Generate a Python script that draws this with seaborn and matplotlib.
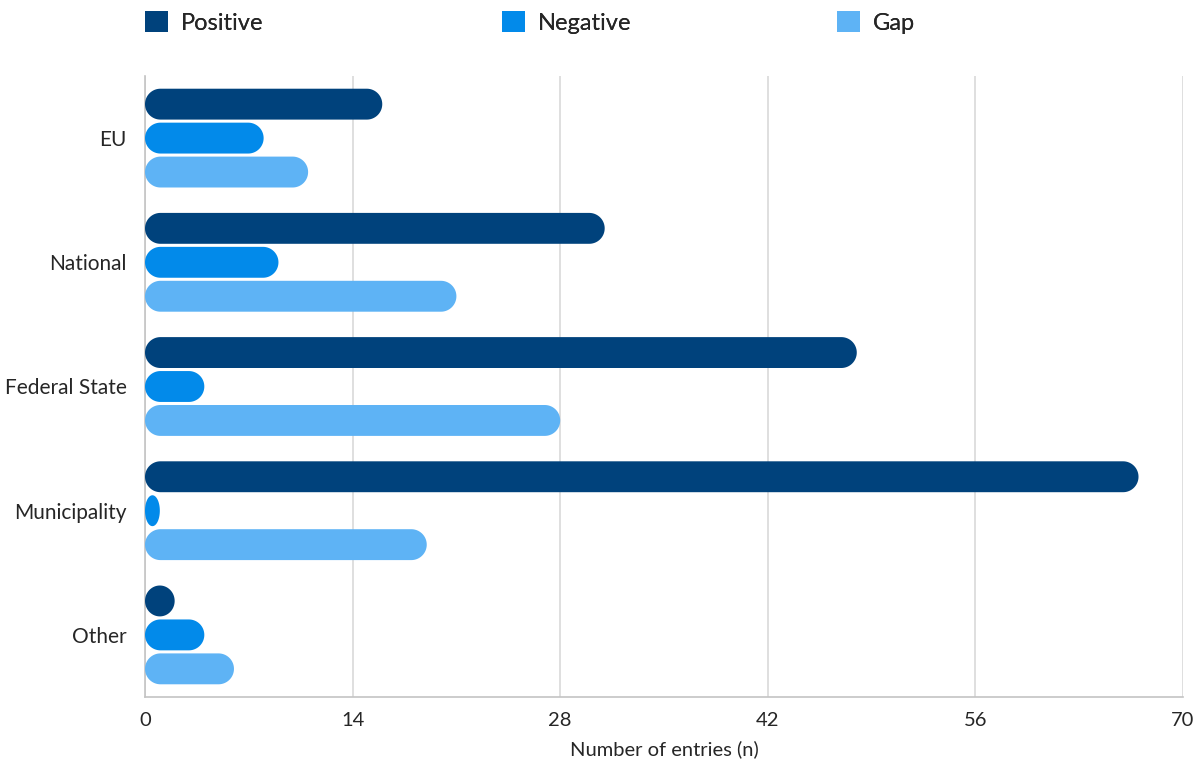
import matplotlib
matplotlib.use("Agg")
import matplotlib.pyplot as plt
from matplotlib.patches import Polygon, Patch
import numpy as np
import pandas as pd
import seaborn as sns

# ----- data -----
levels = ["EU", "National", "Federal State", "Municipality", "Other"]
positive = [16, 31, 48, 67, 2]
negative = [8, 9, 4, 1, 4]
gap = [11, 21, 28, 19, 6]

series_names = ["Positive", "Negative", "Gap"]
colors = ["#00427C", "#028AEA", "#5EB3F5"]
x_ticks = [0, 14, 28, 42, 56, 70]

df = pd.DataFrame({
    "level": levels * 3,
    "n": positive + negative + gap,
    "type": [s for s in series_names for _ in levels],
})

sns.set_style("white")
plt.rcParams["font.family"] = ["Lato", "DejaVu Sans"]

fig = plt.figure(figsize=(12, 7.63), dpi=100)
ax = fig.add_axes([145 / 1200, 1 - 697 / 763, 1038 / 1200, 621 / 763])

sns.barplot(data=df, y="level", x="n", hue="type", orient="h",
            order=levels, hue_order=series_names, palette=colors,
            saturation=1, width=0.82, gap=0.09, legend=False, ax=ax, zorder=3)

ax.set_xlim(0, 70)
ax.set_ylim(4.5, -0.5)
ax.set_xticks(x_ticks)
ax.set_xticklabels([str(t) for t in x_ticks], fontsize=14.5)
ax.tick_params(axis="x", length=0, pad=11)
ax.tick_params(axis="y", length=0, pad=13, labelsize=15)
ax.set_ylabel("")
ax.set_xlabel("Number of entries (n)", fontsize=14.5, labelpad=8)
ax.grid(axis="x", color="#d9d9d9", linewidth=1.2, zorder=0)
ax.set_axisbelow(True)
for side in ["top", "right"]:
    ax.spines[side].set_visible(False)
for side in ["left", "bottom"]:
    ax.spines[side].set_color("#c4c4c4")
    ax.spines[side].set_linewidth(1.2)

# turn the plain bars into pill shapes (half-ellipse caps, round in pixels)
fig.canvas.draw()
sx = abs(ax.transData.transform((1, 0))[0] - ax.transData.transform((0, 0))[0])
sy = abs(ax.transData.transform((0, 1))[1] - ax.transData.transform((0, 0))[1])
theta = np.linspace(-np.pi / 2, np.pi / 2, 40)
for p in list(ax.patches):
    x, y, w, h = p.get_x(), p.get_y(), p.get_width(), p.get_height()
    if w <= 0:
        continue
    hh = abs(h) / 2
    yc = y + h / 2
    rx = min(w / 2, hh * sy / sx)
    right = np.column_stack([x + w - rx + rx * np.cos(theta), yc + hh * np.sin(theta)])
    left = np.column_stack([x + rx - rx * np.cos(theta[::-1]), yc + hh * np.sin(theta[::-1])])
    pill = Polygon(np.vstack([right, left]), closed=True,
                   facecolor=p.get_facecolor(), edgecolor="none", zorder=3)
    p.remove()
    ax.add_patch(pill)

# legend: three entries spread across the top
legend_x = [136, 493, 828]
for name, col, lx in zip(series_names, colors, legend_x):
    leg = fig.legend(handles=[Patch(facecolor=col, edgecolor="none", label=name)],
                     loc="upper left", bbox_to_anchor=(lx / 1200, 1 - 2 / 763),
                     frameon=False, fontsize=17, handlelength=0.95,
                     handleheight=0.95, handletextpad=0.55, borderaxespad=0)
    fig.add_artist(leg)

fig.savefig("out.png", dpi=100, facecolor="white")
